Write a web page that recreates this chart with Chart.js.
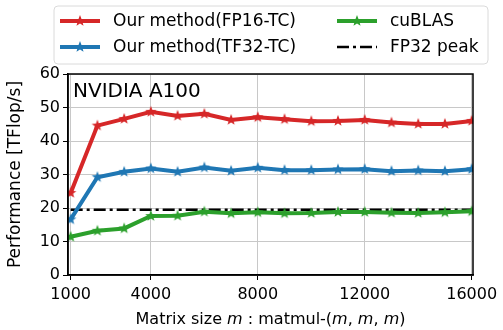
<!DOCTYPE html>
<html>
<head>
<meta charset="utf-8">
<script src="https://cdn.jsdelivr.net/npm/chart.js@4.4.1/dist/chart.umd.min.js"></script>
<style>
  html, body { margin: 0; padding: 0; background: #fff; }
  #wrap { width: 503px; height: 330px; }
</style>
</head>
<body>
<div id="wrap"><canvas id="perfChart" width="503" height="330"></canvas></div>
<script>
// ── Dados ────────────────────────────────────────────────────
const matrixSizes = [1000, 2000, 3000, 4000, 5000, 6000, 7000, 8000,
                     9000, 10000, 11000, 12000, 13000, 14000, 15000, 16000];
const fp16tc = [24.5, 44.6, 46.6, 48.7, 47.5, 48.1, 46.3, 47.1,
                46.5, 45.9, 46.0, 46.3, 45.5, 45.1, 45.1, 46.0];
const tf32tc = [16.6, 29.2, 30.8, 31.8, 30.8, 32.1, 31.1, 32.0,
                31.3, 31.3, 31.5, 31.6, 31.0, 31.2, 31.0, 31.6];
const cublas = [11.4, 13.2, 13.9, 17.6, 17.7, 18.9, 18.4, 18.7,
                18.4, 18.5, 18.8, 18.8, 18.6, 18.5, 18.7, 19.0];
const fp32Peak = 19.5;
const xTicks = [1000, 4000, 8000, 12000, 16000];
const yTicks = [0, 10, 20, 30, 40, 50, 60];

const FONT = '"DejaVu Sans", sans-serif';
const RED = '#d62728', BLUE = '#1f77b4', GREEN = '#2ca02c';

// ── Marcador estrela preenchida ──────────────────────────────
function starMarker(color, r = 6) {
  const c = document.createElement('canvas');
  const s = Math.ceil(r * 2 + 2);
  c.width = s; c.height = s;
  const g = c.getContext('2d');
  g.translate(s / 2, s / 2);
  g.beginPath();
  for (let i = 0; i < 10; i++) {
    const rad = i % 2 === 0 ? r : r * 0.42;
    const a = -Math.PI / 2 + i * Math.PI / 5;
    g.lineTo(rad * Math.cos(a), rad * Math.sin(a));
  }
  g.closePath();
  g.fillStyle = color;
  g.fill();
  return c;
}

const toPts = (vals) => matrixSizes.map((x, i) => ({ x, y: vals[i] }));

function serie(label, vals, color) {
  return {
    label,
    data: toPts(vals),
    borderColor: color,
    backgroundColor: color,
    borderWidth: 4,
    pointStyle: starMarker(color),
    pointRadius: 6,
    tension: 0
  };
}

const datasets = [
  serie('Our method(FP16-TC)', fp16tc, RED),
  serie('Our method(TF32-TC)', tf32tc, BLUE),
  serie('cuBLAS', cublas, GREEN),
  {
    label: 'FP32 peak',
    data: [{ x: matrixSizes[0], y: fp32Peak }, { x: matrixSizes[matrixSizes.length - 1], y: fp32Peak }],
    borderColor: '#000',
    borderWidth: 2.5,
    borderDash: [12, 4, 3, 4],
    pointRadius: 0
  }
];

// ── Legenda, título interno, moldura e rótulos dos eixos ─────
const extras = {
  id: 'extras',
  afterDraw(chart) {
    const { ctx, chartArea: a } = chart;
    ctx.save();

    // moldura do gráfico
    ctx.strokeStyle = '#000';
    ctx.lineWidth = 1.5;
    ctx.strokeRect(a.left, a.top, a.right - a.left, a.bottom - a.top);

    // título interno
    ctx.fillStyle = '#000';
    ctx.font = `20px ${FONT}`;
    ctx.textBaseline = 'alphabetic';
    ctx.textAlign = 'left';
    ctx.fillText('NVIDIA A100', a.left + 5, a.top + 23);

    // rótulo eixo Y
    ctx.save();
    ctx.translate(16, (a.top + a.bottom) / 2);
    ctx.rotate(-Math.PI / 2);
    ctx.textAlign = 'center';
    ctx.textBaseline = 'middle';
    ctx.font = `17px ${FONT}`;
    ctx.fillText('Performance [TFlop/s]', 0, 0);
    ctx.restore();

    // rótulo eixo X com m em itálico
    const parts = [
      ['Matrix size ', false], ['m', true], [' : matmul-(', false],
      ['m', true], [', ', false], ['m', true], [', ', false], ['m', true], [')', false]
    ];
    const fontOf = (it) => `${it ? 'italic ' : ''}16px ${FONT}`;
    let total = 0;
    parts.forEach(([t, it]) => { ctx.font = fontOf(it); total += ctx.measureText(t).width; });
    let x = (a.left + a.right) / 2 - total / 2;
    ctx.textBaseline = 'middle';
    ctx.textAlign = 'left';
    parts.forEach(([t, it]) => {
      ctx.font = fontOf(it);
      ctx.fillText(t, x, 320);
      x += ctx.measureText(t).width;
    });

    // caixa da legenda
    const bx = 54, by = 6, bw = 434, bh = 58, br = 4;
    ctx.beginPath();
    ctx.roundRect(bx, by, bw, bh, br);
    ctx.fillStyle = 'rgba(255,255,255,0.85)';
    ctx.fill();
    ctx.strokeStyle = '#dadada';
    ctx.lineWidth = 1;
    ctx.stroke();

    const slots = [[60, 21], [60, 47], [337, 21], [337, 47]];
    chart.data.datasets.forEach((ds, i) => {
      const [hx, hy] = slots[i];
      ctx.save();
      ctx.strokeStyle = ds.borderColor;
      ctx.lineWidth = ds.borderWidth;
      ctx.setLineDash(ds.borderDash || []);
      ctx.beginPath();
      ctx.moveTo(hx, hy);
      ctx.lineTo(hx + 40, hy);
      ctx.stroke();
      ctx.restore();
      if (ds.pointRadius) {
        const m = ds.pointStyle;
        ctx.drawImage(m, hx + 20 - m.width / 2, hy - m.height / 2);
      }
      ctx.fillStyle = '#000';
      ctx.font = `17px ${FONT}`;
      ctx.textBaseline = 'middle';
      ctx.fillText(ds.label, hx + 53, hy + 1);
    });

    ctx.restore();
  }
};

// ── Gráfico ──────────────────────────────────────────────────
new Chart(document.getElementById('perfChart'), {
  type: 'line',
  data: { datasets },
  plugins: [extras],
  options: {
    responsive: false,
    animation: false,
    layout: { padding: { top: 74, right: 30, left: 0, bottom: 0 } },
    plugins: { legend: { display: false }, tooltip: { enabled: false } },
    scales: {
      x: {
        type: 'linear',
        min: 900,
        max: 16050,
        afterBuildTicks: (s) => { s.ticks = xTicks.map(v => ({ value: v })); },
        afterFit: (s) => { s.height = 55; },
        ticks: {
          color: '#000', font: { family: FONT, size: 16 }, padding: 5, maxRotation: 0,
          callback: (v) => String(v)
        },
        grid: { color: '#c8c8c8', lineWidth: 1, tickLength: 5, tickColor: '#000' },
        border: { color: '#000', width: 1.5 }
      },
      y: {
        min: 0,
        max: 60,
        afterBuildTicks: (s) => { s.ticks = yTicks.map(v => ({ value: v })); },
        afterFit: (s) => { s.width = 68; },
        ticks: { color: '#000', font: { family: FONT, size: 16 }, padding: 3 },
        grid: { color: '#c8c8c8', lineWidth: 1, tickLength: 5, tickColor: '#000' },
        border: { color: '#000', width: 1.5 }
      }
    }
  }
});
</script>
</body>
</html>
